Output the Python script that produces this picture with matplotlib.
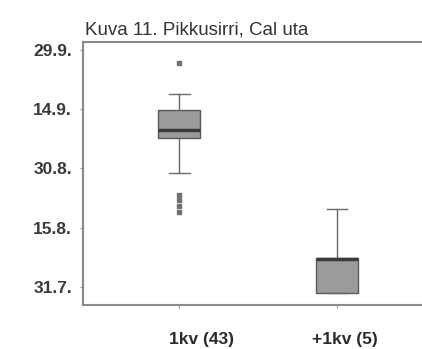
import matplotlib.pyplot as plt

plt.rcParams['font.family'] = ['Liberation Sans', 'DejaVu Sans']

# data (in axis units where ticks are 0..4)
groups = ['1kv (43)', '+1kv (5)']
q1 = [2.51, -0.10]
med = [2.65, 0.47]
q3 = [2.99, 0.49]
whislo = [1.92, -0.10]
whishi = [3.26, 1.32]
fliers = [[3.78, 1.56, 1.46, 1.36, 1.26], []]
ytick_pos = [0, 1, 2, 3, 4]
ytick_labels = ['31.7.', '15.8.', '30.8.', '14.9.', '29.9.']
title = 'Kuva 11. Pikkusirri, Cal uta'

stats = []
for i, g in enumerate(groups):
    stats.append(dict(label=g, q1=q1[i], med=med[i], q3=q3[i],
                      whislo=whislo[i], whishi=whishi[i], fliers=fliers[i]))

fig = plt.figure(figsize=(4.22, 3.49), dpi=100)
ax = fig.add_axes([0.197, 0.126, 0.803, 0.754])

ax.bxp(stats, positions=[1, 2], widths=0.265, patch_artist=True,
       boxprops=dict(facecolor='#9b9b9b', edgecolor='#5a5a5a', linewidth=1),
       medianprops=dict(color='#3a3a3a', linewidth=2.5),
       whiskerprops=dict(color='#6a6a6a', linewidth=1),
       capprops=dict(color='#6a6a6a', linewidth=1),
       capwidths=0.13,
       flierprops=dict(marker='s', markersize=2.5, markerfacecolor='#707070',
                       markeredgecolor='#707070'))

ax.set_xlim(0.39, 2.54)
ax.set_ylim(-0.3, 4.13)
ax.set_yticks(ytick_pos)
ax.set_yticklabels(ytick_labels, fontsize=12.5, fontweight='bold', color='#3a3a3a')
ax.set_xticks([1, 2])
ax.set_xticklabels([])
ax.tick_params(axis='y', length=2, color='#999999', pad=6)
ax.tick_params(axis='x', length=2, color='#999999')

# category labels sit a bit right of their ticks in the original
for pos, g, dx in zip([1, 2], groups, [22, 8]):
    ax.annotate(g, xy=(pos, 0), xycoords=('data', 'axes fraction'),
                xytext=(dx * 0.72, -25), textcoords='offset points',
                ha='center', va='center', fontsize=12.5, fontweight='bold',
                color='#2a2a2a')

for s in ['left', 'bottom', 'top']:
    ax.spines[s].set_color('#8a8a8a')
    ax.spines[s].set_linewidth(1.5)
ax.spines['right'].set_visible(False)

fig.text(0.201, 0.914, title, fontsize=13.5, color='#333333', va='center')

fig.savefig('out.png', dpi=100)
